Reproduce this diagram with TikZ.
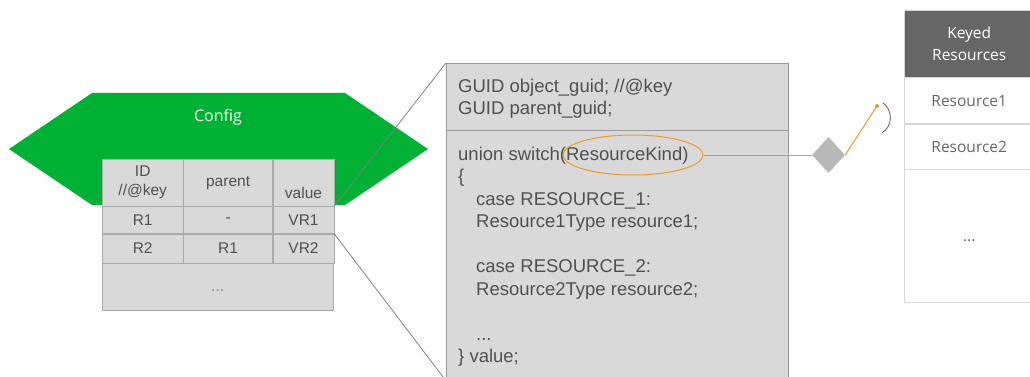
\documentclass[tikz,border=0pt]{standalone}
\usepackage{fontspec}
\setmainfont{Liberation Sans}
\newfontfamily\slidefont{Open Sans}
\usetikzlibrary{shapes.geometric}
\usetikzlibrary{positioning}
\definecolor{cfggreen}{RGB}{0,177,52}
\definecolor{cellfill}{RGB}{217,217,217}
\definecolor{cellline}{RGB}{170,170,170}
\definecolor{txtgray}{RGB}{80,80,80}
\definecolor{linegray}{RGB}{128,128,128}
\definecolor{kindorange}{RGB}{240,152,40}
\definecolor{krhead}{RGB}{102,102,102}
\definecolor{krline}{RGB}{215,215,215}
\tikzstyle{cell} = [rectangle, draw=cellline, fill=cellfill, text=txtgray, inner sep=0pt, align=center, font=\fontsize{15.5}{19}\selectfont]
\tikzstyle{krcell} = [rectangle, draw=krline, fill=white, text=krhead, minimum width=130pt, inner sep=0pt, align=center, font=\slidefont\fontsize{15.5}{22}\selectfont]
\tikzstyle{codebox} = [rectangle, draw=linegray!80, fill=cellfill, minimum width=342pt, inner sep=0pt]
\tikzstyle{codetext} = [text=txtgray, inner sep=0pt, align=left, font=\fontsize{18.5}{22.5}\selectfont]
\tikzstyle{zoomline} = [draw=linegray, line width=0.8pt]
\tikzstyle{kindline} = [draw=kindorange, line width=1pt]

\begin{document}
\begin{tikzpicture}[x=1pt, y=-1pt]
\useasboundingbox (0,0) rectangle (1030,377);

% config hexagon and its table
\fill[cfggreen] (9,149) -- (92,93) -- (345,93) -- (428,149) -- (345,205) -- (92,205) -- cycle;
\node (config) [text=white, font=\slidefont\fontsize{16}{19}\selectfont] at (218,117) {Config};

\node (idhead) [cell, anchor=north west, minimum width=81pt, minimum height=47pt] at (102,159) {ID\\//@key};
\node (parenthead) [cell, right=0pt of idhead, minimum width=89pt, minimum height=47pt] {parent};
\node (valuehead) [cell, right=0pt of parenthead, minimum width=61pt, minimum height=47pt] {};
\node (valuetext) [text=txtgray, font=\fontsize{15.5}{19}\selectfont] at ([yshift=-10pt]valuehead.center) {value};
\node (r1id) [cell, below=0pt of idhead, minimum width=81pt, minimum height=27pt] {R1};
\node (r1parent) [cell, right=0pt of r1id, minimum width=89pt, minimum height=27pt] {-};
\node (r1value) [cell, right=0pt of r1parent, minimum width=61pt, minimum height=27pt] {VR1};
\node (r2id) [cell, below=0pt of r1id, minimum width=81pt, minimum height=29pt] {R2};
\node (r2parent) [cell, right=0pt of r2id, minimum width=89pt, minimum height=29pt] {R1};
\node (r2value) [cell, right=0pt of r2parent, minimum width=61pt, minimum height=29pt] {VR2};
\node (cfgmore) [cell, anchor=north west, minimum width=231pt, minimum height=47pt, text height=10pt, text depth=0pt] at (r2id.south west) {\textcolor{txtgray!70}{...}};

% record layout
\node (codekey) [codebox, anchor=north west, minimum height=67pt] at (446,63) {};
\node (codebody) [codebox, below=0pt of codekey, minimum height=250pt] {};
\node (keytext) [codetext, anchor=base west] at (458,115) {GUID object\_guid; //@key\\GUID parent\_guid;};
\node (bodytext) [codetext, anchor=base west] at (458,362.5) {union switch(ResourceKind)\\
\{\\
\hspace*{18pt}case RESOURCE\_1:\\
\hspace*{18pt}Resource1Type resource1;\\[22.5pt]
\hspace*{18pt}case RESOURCE\_2:\\
\hspace*{18pt}Resource2Type resource2;\\[22.5pt]
\hspace*{18pt}...\\
\} value;};
\node (kind) [ellipse, draw=kindorange, line width=1pt, minimum width=140pt, minimum height=40pt] at (633,155) {};

\draw [zoomline] (valuehead.south east) -- (codekey.north west);
\draw [zoomline] (r1value.south east) -- (codebody.south west);

% keyed resources
\node (keyed) [krcell, anchor=north west, fill=krhead, text=white, minimum height=67pt] at (904,10) {Keyed\\Resources};
\node (res1) [krcell, below=0pt of keyed, minimum height=46pt] {Resource1};
\node (res2) [krcell, below=0pt of res1, minimum height=45pt] {Resource2};
\node (resmore) [krcell, below=0pt of res2, minimum height=133pt, text height=11pt, text depth=0pt] {...};

% choice connector
\node (choice) [diamond, fill=black!28, minimum width=33pt, minimum height=36pt, inner sep=0pt] at (828.5,155) {};
\node (tip) [circle, fill=kindorange, minimum size=4pt, inner sep=0pt] at (877,106) {};
\draw [kindline] (kind.east) -- (choice.west);
\draw [kindline] (choice.east) -- (tip.center);
\draw [draw=black!65, line width=0.8pt] (883,103) .. controls (893,110) and (893,126) .. (882,133);

\end{tikzpicture}
\end{document}
